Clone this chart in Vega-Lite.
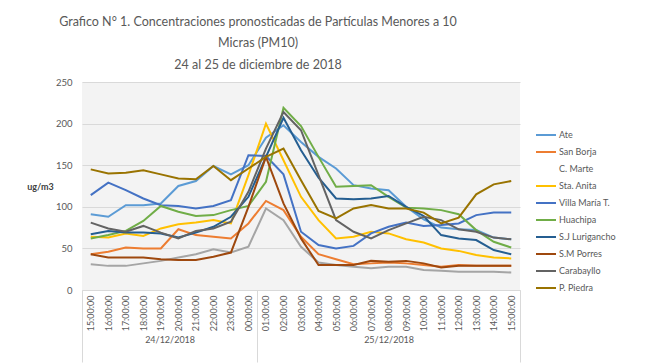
{
  "$schema": "https://vega.github.io/schema/vega-lite/v6.json",
  "width": 438,
  "height": 208,
  "autosize": {"type": "none"},
  "padding": {"left": 82, "top": 82, "right": 125, "bottom": 73},
  "background": "white",
  "config": {"font": "Lato", "view": {"stroke": null, "fill": "#f3f3f3"}},
  "title": {
    "text": ["Grafico N° 1. Concentraciones pronosticadas de Partículas Menores a 10", "Micras (PM10)", "24 al 25 de diciembre de 2018"],
    "font": "Lato", "fontSize": 12.5, "fontWeight": "normal", "color": "#595959",
    "anchor": "middle", "dx": -43, "offset": 6, "lineHeight": 21.5
  },
  "datasets": {
    "sep": [{"p": -0.5}, {"p": 9.5}, {"p": 24.5}],
    "pm": [
      {"t":"24/12/2018 15:00:00","s":"Ate","v":91},{"t":"24/12/2018 16:00:00","s":"Ate","v":88},{"t":"24/12/2018 17:00:00","s":"Ate","v":102},{"t":"24/12/2018 18:00:00","s":"Ate","v":102},{"t":"24/12/2018 19:00:00","s":"Ate","v":104},{"t":"24/12/2018 20:00:00","s":"Ate","v":125},{"t":"24/12/2018 21:00:00","s":"Ate","v":131},{"t":"24/12/2018 22:00:00","s":"Ate","v":149},{"t":"24/12/2018 23:00:00","s":"Ate","v":139},{"t":"24/12/2018 00:00:00","s":"Ate","v":150},{"t":"25/12/2018 01:00:00","s":"Ate","v":183},{"t":"25/12/2018 02:00:00","s":"Ate","v":198},{"t":"25/12/2018 03:00:00","s":"Ate","v":178},{"t":"25/12/2018 04:00:00","s":"Ate","v":160},{"t":"25/12/2018 05:00:00","s":"Ate","v":146},{"t":"25/12/2018 06:00:00","s":"Ate","v":126},{"t":"25/12/2018 07:00:00","s":"Ate","v":122},{"t":"25/12/2018 08:00:00","s":"Ate","v":120},{"t":"25/12/2018 09:00:00","s":"Ate","v":100},{"t":"25/12/2018 10:00:00","s":"Ate","v":85},{"t":"25/12/2018 11:00:00","s":"Ate","v":75},{"t":"25/12/2018 12:00:00","s":"Ate","v":73},{"t":"25/12/2018 13:00:00","s":"Ate","v":72},{"t":"25/12/2018 14:00:00","s":"Ate","v":63},{"t":"25/12/2018 15:00:00","s":"Ate","v":61},
      {"t":"24/12/2018 15:00:00","s":"San Borja","v":43},{"t":"24/12/2018 16:00:00","s":"San Borja","v":46},{"t":"24/12/2018 17:00:00","s":"San Borja","v":51},{"t":"24/12/2018 18:00:00","s":"San Borja","v":50},{"t":"24/12/2018 19:00:00","s":"San Borja","v":50},{"t":"24/12/2018 20:00:00","s":"San Borja","v":73},{"t":"24/12/2018 21:00:00","s":"San Borja","v":66},{"t":"24/12/2018 22:00:00","s":"San Borja","v":64},{"t":"24/12/2018 23:00:00","s":"San Borja","v":62},{"t":"24/12/2018 00:00:00","s":"San Borja","v":80},{"t":"25/12/2018 01:00:00","s":"San Borja","v":107},{"t":"25/12/2018 02:00:00","s":"San Borja","v":96},{"t":"25/12/2018 03:00:00","s":"San Borja","v":64},{"t":"25/12/2018 04:00:00","s":"San Borja","v":43},{"t":"25/12/2018 05:00:00","s":"San Borja","v":37},{"t":"25/12/2018 06:00:00","s":"San Borja","v":31},{"t":"25/12/2018 07:00:00","s":"San Borja","v":32},{"t":"25/12/2018 08:00:00","s":"San Borja","v":33},{"t":"25/12/2018 09:00:00","s":"San Borja","v":32},{"t":"25/12/2018 10:00:00","s":"San Borja","v":30},{"t":"25/12/2018 11:00:00","s":"San Borja","v":28},{"t":"25/12/2018 12:00:00","s":"San Borja","v":30},{"t":"25/12/2018 13:00:00","s":"San Borja","v":29},{"t":"25/12/2018 14:00:00","s":"San Borja","v":29},{"t":"25/12/2018 15:00:00","s":"San Borja","v":29},
      {"t":"24/12/2018 15:00:00","s":"C. Marte","v":31},{"t":"24/12/2018 16:00:00","s":"C. Marte","v":29},{"t":"24/12/2018 17:00:00","s":"C. Marte","v":29},{"t":"24/12/2018 18:00:00","s":"C. Marte","v":32},{"t":"24/12/2018 19:00:00","s":"C. Marte","v":35},{"t":"24/12/2018 20:00:00","s":"C. Marte","v":39},{"t":"24/12/2018 21:00:00","s":"C. Marte","v":43},{"t":"24/12/2018 22:00:00","s":"C. Marte","v":49},{"t":"24/12/2018 23:00:00","s":"C. Marte","v":45},{"t":"24/12/2018 00:00:00","s":"C. Marte","v":52},{"t":"25/12/2018 01:00:00","s":"C. Marte","v":98},{"t":"25/12/2018 02:00:00","s":"C. Marte","v":84},{"t":"25/12/2018 03:00:00","s":"C. Marte","v":52},{"t":"25/12/2018 04:00:00","s":"C. Marte","v":33},{"t":"25/12/2018 05:00:00","s":"C. Marte","v":30},{"t":"25/12/2018 06:00:00","s":"C. Marte","v":28},{"t":"25/12/2018 07:00:00","s":"C. Marte","v":26},{"t":"25/12/2018 08:00:00","s":"C. Marte","v":28},{"t":"25/12/2018 09:00:00","s":"C. Marte","v":28},{"t":"25/12/2018 10:00:00","s":"C. Marte","v":24},{"t":"25/12/2018 11:00:00","s":"C. Marte","v":23},{"t":"25/12/2018 12:00:00","s":"C. Marte","v":22},{"t":"25/12/2018 13:00:00","s":"C. Marte","v":22},{"t":"25/12/2018 14:00:00","s":"C. Marte","v":22},{"t":"25/12/2018 15:00:00","s":"C. Marte","v":21},
      {"t":"24/12/2018 15:00:00","s":"Sta. Anita","v":64},{"t":"24/12/2018 16:00:00","s":"Sta. Anita","v":63},{"t":"24/12/2018 17:00:00","s":"Sta. Anita","v":68},{"t":"24/12/2018 18:00:00","s":"Sta. Anita","v":65},{"t":"24/12/2018 19:00:00","s":"Sta. Anita","v":74},{"t":"24/12/2018 20:00:00","s":"Sta. Anita","v":79},{"t":"24/12/2018 21:00:00","s":"Sta. Anita","v":81},{"t":"24/12/2018 22:00:00","s":"Sta. Anita","v":84},{"t":"24/12/2018 23:00:00","s":"Sta. Anita","v":80},{"t":"24/12/2018 00:00:00","s":"Sta. Anita","v":138},{"t":"25/12/2018 01:00:00","s":"Sta. Anita","v":200},{"t":"25/12/2018 02:00:00","s":"Sta. Anita","v":156},{"t":"25/12/2018 03:00:00","s":"Sta. Anita","v":112},{"t":"25/12/2018 04:00:00","s":"Sta. Anita","v":84},{"t":"25/12/2018 05:00:00","s":"Sta. Anita","v":62},{"t":"25/12/2018 06:00:00","s":"Sta. Anita","v":64},{"t":"25/12/2018 07:00:00","s":"Sta. Anita","v":70},{"t":"25/12/2018 08:00:00","s":"Sta. Anita","v":68},{"t":"25/12/2018 09:00:00","s":"Sta. Anita","v":61},{"t":"25/12/2018 10:00:00","s":"Sta. Anita","v":57},{"t":"25/12/2018 11:00:00","s":"Sta. Anita","v":50},{"t":"25/12/2018 12:00:00","s":"Sta. Anita","v":47},{"t":"25/12/2018 13:00:00","s":"Sta. Anita","v":42},{"t":"25/12/2018 14:00:00","s":"Sta. Anita","v":39},{"t":"25/12/2018 15:00:00","s":"Sta. Anita","v":38},
      {"t":"24/12/2018 15:00:00","s":"Villa María T.","v":114},{"t":"24/12/2018 16:00:00","s":"Villa María T.","v":129},{"t":"24/12/2018 17:00:00","s":"Villa María T.","v":120},{"t":"24/12/2018 18:00:00","s":"Villa María T.","v":110},{"t":"24/12/2018 19:00:00","s":"Villa María T.","v":102},{"t":"24/12/2018 20:00:00","s":"Villa María T.","v":101},{"t":"24/12/2018 21:00:00","s":"Villa María T.","v":98},{"t":"24/12/2018 22:00:00","s":"Villa María T.","v":101},{"t":"24/12/2018 23:00:00","s":"Villa María T.","v":108},{"t":"24/12/2018 00:00:00","s":"Villa María T.","v":162},{"t":"25/12/2018 01:00:00","s":"Villa María T.","v":161},{"t":"25/12/2018 02:00:00","s":"Villa María T.","v":139},{"t":"25/12/2018 03:00:00","s":"Villa María T.","v":70},{"t":"25/12/2018 04:00:00","s":"Villa María T.","v":54},{"t":"25/12/2018 05:00:00","s":"Villa María T.","v":50},{"t":"25/12/2018 06:00:00","s":"Villa María T.","v":53},{"t":"25/12/2018 07:00:00","s":"Villa María T.","v":68},{"t":"25/12/2018 08:00:00","s":"Villa María T.","v":76},{"t":"25/12/2018 09:00:00","s":"Villa María T.","v":81},{"t":"25/12/2018 10:00:00","s":"Villa María T.","v":77},{"t":"25/12/2018 11:00:00","s":"Villa María T.","v":78},{"t":"25/12/2018 12:00:00","s":"Villa María T.","v":80},{"t":"25/12/2018 13:00:00","s":"Villa María T.","v":90},{"t":"25/12/2018 14:00:00","s":"Villa María T.","v":93},{"t":"25/12/2018 15:00:00","s":"Villa María T.","v":93},
      {"t":"24/12/2018 15:00:00","s":"Huachipa","v":62},{"t":"24/12/2018 16:00:00","s":"Huachipa","v":66},{"t":"24/12/2018 17:00:00","s":"Huachipa","v":71},{"t":"24/12/2018 18:00:00","s":"Huachipa","v":83},{"t":"24/12/2018 19:00:00","s":"Huachipa","v":101},{"t":"24/12/2018 20:00:00","s":"Huachipa","v":94},{"t":"24/12/2018 21:00:00","s":"Huachipa","v":89},{"t":"24/12/2018 22:00:00","s":"Huachipa","v":90},{"t":"24/12/2018 23:00:00","s":"Huachipa","v":96},{"t":"24/12/2018 00:00:00","s":"Huachipa","v":101},{"t":"25/12/2018 01:00:00","s":"Huachipa","v":130},{"t":"25/12/2018 02:00:00","s":"Huachipa","v":219},{"t":"25/12/2018 03:00:00","s":"Huachipa","v":197},{"t":"25/12/2018 04:00:00","s":"Huachipa","v":160},{"t":"25/12/2018 05:00:00","s":"Huachipa","v":124},{"t":"25/12/2018 06:00:00","s":"Huachipa","v":125},{"t":"25/12/2018 07:00:00","s":"Huachipa","v":126},{"t":"25/12/2018 08:00:00","s":"Huachipa","v":112},{"t":"25/12/2018 09:00:00","s":"Huachipa","v":99},{"t":"25/12/2018 10:00:00","s":"Huachipa","v":98},{"t":"25/12/2018 11:00:00","s":"Huachipa","v":96},{"t":"25/12/2018 12:00:00","s":"Huachipa","v":91},{"t":"25/12/2018 13:00:00","s":"Huachipa","v":72},{"t":"25/12/2018 14:00:00","s":"Huachipa","v":58},{"t":"25/12/2018 15:00:00","s":"Huachipa","v":51},
      {"t":"24/12/2018 15:00:00","s":"S.J Lurigancho","v":67},{"t":"24/12/2018 16:00:00","s":"S.J Lurigancho","v":71},{"t":"24/12/2018 17:00:00","s":"S.J Lurigancho","v":69},{"t":"24/12/2018 18:00:00","s":"S.J Lurigancho","v":69},{"t":"24/12/2018 19:00:00","s":"S.J Lurigancho","v":68},{"t":"24/12/2018 20:00:00","s":"S.J Lurigancho","v":63},{"t":"24/12/2018 21:00:00","s":"S.J Lurigancho","v":69},{"t":"24/12/2018 22:00:00","s":"S.J Lurigancho","v":76},{"t":"24/12/2018 23:00:00","s":"S.J Lurigancho","v":88},{"t":"24/12/2018 00:00:00","s":"S.J Lurigancho","v":112},{"t":"25/12/2018 01:00:00","s":"S.J Lurigancho","v":160},{"t":"25/12/2018 02:00:00","s":"S.J Lurigancho","v":207},{"t":"25/12/2018 03:00:00","s":"S.J Lurigancho","v":168},{"t":"25/12/2018 04:00:00","s":"S.J Lurigancho","v":135},{"t":"25/12/2018 05:00:00","s":"S.J Lurigancho","v":110},{"t":"25/12/2018 06:00:00","s":"S.J Lurigancho","v":109},{"t":"25/12/2018 07:00:00","s":"S.J Lurigancho","v":110},{"t":"25/12/2018 08:00:00","s":"S.J Lurigancho","v":113},{"t":"25/12/2018 09:00:00","s":"S.J Lurigancho","v":100},{"t":"25/12/2018 10:00:00","s":"S.J Lurigancho","v":89},{"t":"25/12/2018 11:00:00","s":"S.J Lurigancho","v":66},{"t":"25/12/2018 12:00:00","s":"S.J Lurigancho","v":62},{"t":"25/12/2018 13:00:00","s":"S.J Lurigancho","v":60},{"t":"25/12/2018 14:00:00","s":"S.J Lurigancho","v":48},{"t":"25/12/2018 15:00:00","s":"S.J Lurigancho","v":43},
      {"t":"24/12/2018 15:00:00","s":"S.M Porres","v":43},{"t":"24/12/2018 16:00:00","s":"S.M Porres","v":39},{"t":"24/12/2018 17:00:00","s":"S.M Porres","v":39},{"t":"24/12/2018 18:00:00","s":"S.M Porres","v":39},{"t":"24/12/2018 19:00:00","s":"S.M Porres","v":37},{"t":"24/12/2018 20:00:00","s":"S.M Porres","v":36},{"t":"24/12/2018 21:00:00","s":"S.M Porres","v":36},{"t":"24/12/2018 22:00:00","s":"S.M Porres","v":40},{"t":"24/12/2018 23:00:00","s":"S.M Porres","v":45},{"t":"24/12/2018 00:00:00","s":"S.M Porres","v":100},{"t":"25/12/2018 01:00:00","s":"S.M Porres","v":160},{"t":"25/12/2018 02:00:00","s":"S.M Porres","v":104},{"t":"25/12/2018 03:00:00","s":"S.M Porres","v":62},{"t":"25/12/2018 04:00:00","s":"S.M Porres","v":30},{"t":"25/12/2018 05:00:00","s":"S.M Porres","v":30},{"t":"25/12/2018 06:00:00","s":"S.M Porres","v":30},{"t":"25/12/2018 07:00:00","s":"S.M Porres","v":35},{"t":"25/12/2018 08:00:00","s":"S.M Porres","v":34},{"t":"25/12/2018 09:00:00","s":"S.M Porres","v":35},{"t":"25/12/2018 10:00:00","s":"S.M Porres","v":32},{"t":"25/12/2018 11:00:00","s":"S.M Porres","v":27},{"t":"25/12/2018 12:00:00","s":"S.M Porres","v":29},{"t":"25/12/2018 13:00:00","s":"S.M Porres","v":29},{"t":"25/12/2018 14:00:00","s":"S.M Porres","v":29},{"t":"25/12/2018 15:00:00","s":"S.M Porres","v":29},
      {"t":"24/12/2018 15:00:00","s":"Carabayllo","v":81},{"t":"24/12/2018 16:00:00","s":"Carabayllo","v":74},{"t":"24/12/2018 17:00:00","s":"Carabayllo","v":70},{"t":"24/12/2018 18:00:00","s":"Carabayllo","v":77},{"t":"24/12/2018 19:00:00","s":"Carabayllo","v":69},{"t":"24/12/2018 20:00:00","s":"Carabayllo","v":62},{"t":"24/12/2018 21:00:00","s":"Carabayllo","v":71},{"t":"24/12/2018 22:00:00","s":"Carabayllo","v":74},{"t":"24/12/2018 23:00:00","s":"Carabayllo","v":82},{"t":"24/12/2018 00:00:00","s":"Carabayllo","v":118},{"t":"25/12/2018 01:00:00","s":"Carabayllo","v":170},{"t":"25/12/2018 02:00:00","s":"Carabayllo","v":214},{"t":"25/12/2018 03:00:00","s":"Carabayllo","v":192},{"t":"25/12/2018 04:00:00","s":"Carabayllo","v":138},{"t":"25/12/2018 05:00:00","s":"Carabayllo","v":84},{"t":"25/12/2018 06:00:00","s":"Carabayllo","v":70},{"t":"25/12/2018 07:00:00","s":"Carabayllo","v":62},{"t":"25/12/2018 08:00:00","s":"Carabayllo","v":72},{"t":"25/12/2018 09:00:00","s":"Carabayllo","v":80},{"t":"25/12/2018 10:00:00","s":"Carabayllo","v":88},{"t":"25/12/2018 11:00:00","s":"Carabayllo","v":84},{"t":"25/12/2018 12:00:00","s":"Carabayllo","v":73},{"t":"25/12/2018 13:00:00","s":"Carabayllo","v":70},{"t":"25/12/2018 14:00:00","s":"Carabayllo","v":63},{"t":"25/12/2018 15:00:00","s":"Carabayllo","v":61},
      {"t":"24/12/2018 15:00:00","s":"P. Piedra","v":145},{"t":"24/12/2018 16:00:00","s":"P. Piedra","v":140},{"t":"24/12/2018 17:00:00","s":"P. Piedra","v":141},{"t":"24/12/2018 18:00:00","s":"P. Piedra","v":144},{"t":"24/12/2018 19:00:00","s":"P. Piedra","v":139},{"t":"24/12/2018 20:00:00","s":"P. Piedra","v":134},{"t":"24/12/2018 21:00:00","s":"P. Piedra","v":133},{"t":"24/12/2018 22:00:00","s":"P. Piedra","v":149},{"t":"24/12/2018 23:00:00","s":"P. Piedra","v":132},{"t":"24/12/2018 00:00:00","s":"P. Piedra","v":146},{"t":"25/12/2018 01:00:00","s":"P. Piedra","v":160},{"t":"25/12/2018 02:00:00","s":"P. Piedra","v":170},{"t":"25/12/2018 03:00:00","s":"P. Piedra","v":132},{"t":"25/12/2018 04:00:00","s":"P. Piedra","v":95},{"t":"25/12/2018 05:00:00","s":"P. Piedra","v":86},{"t":"25/12/2018 06:00:00","s":"P. Piedra","v":98},{"t":"25/12/2018 07:00:00","s":"P. Piedra","v":102},{"t":"25/12/2018 08:00:00","s":"P. Piedra","v":98},{"t":"25/12/2018 09:00:00","s":"P. Piedra","v":98},{"t":"25/12/2018 10:00:00","s":"P. Piedra","v":93},{"t":"25/12/2018 11:00:00","s":"P. Piedra","v":80},{"t":"25/12/2018 12:00:00","s":"P. Piedra","v":87},{"t":"25/12/2018 13:00:00","s":"P. Piedra","v":115},{"t":"25/12/2018 14:00:00","s":"P. Piedra","v":127},{"t":"25/12/2018 15:00:00","s":"P. Piedra","v":131}
    ]
  },
  "layer": [
    {
      "data": {"name": "pm"},
      "mark": {"type": "line", "strokeWidth": 2},
      "encoding": {
        "x": {
          "field": "t", "type": "ordinal", "sort": null,
          "scale": {"type": "point", "padding": 0.5},
          "axis": {
            "orient": "bottom",
            "title": null, "labelExpr": "split(datum.label, ' ')[1]",
            "labelAngle": 270, "labelFontSize": 9, "labelColor": "#595959", "labelFont": "Lato",
            "labelPadding": 5, "ticks": false, "grid": false,
            "domainColor": "#d9d9d9", "domainWidth": 1
          }
        },
        "y": {
          "field": "v", "type": "quantitative",
          "scale": {"domain": [0, 250], "nice": false},
          "axis": {
            "values": [0, 50, 100, 150, 200, 250], "ticks": false, "domain": false,
            "gridColor": "#d9d9d9", "gridWidth": 1,
            "labelFontSize": 9.5, "labelColor": "#595959", "labelFont": "Lato", "labelPadding": 10,
            "title": "ug/m3", "titleAngle": 0, "titleX": -42, "titleY": 104,
            "titleAlign": "center", "titleBaseline": "middle",
            "titleFontSize": 9, "titleFontWeight": "bold", "titleColor": "#404040", "titleFont": "Lato"
          }
        },
        "color": {
          "field": "s", "type": "nominal",
          "scale": {
            "domain": ["Ate", "San Borja", "C. Marte", "Sta. Anita", "Villa María T.", "Huachipa", "S.J Lurigancho", "S.M Porres", "Carabayllo", "P. Piedra"],
            "range": ["#5B9BD5", "#ED7D31", "#A5A5A5", "#FFC000", "#4472C4", "#70AD47", "#255E91", "#9E480E", "#636363", "#997300"]
          },
          "legend": {
            "title": null, "orient": "none", "legendX": 453, "legendY": 42,
            "symbolType": "stroke", "symbolSize": 400, "symbolStrokeWidth": 2,
            "labelFontSize": 9, "labelColor": "#595959", "labelFont": "Lato", "labelOffset": 2,
            "rowPadding": 1,
            "encode": {"symbols": {"update": {"opacity": {"signal": "datum.value === 'C. Marte' ? 0 : 1"}}}}
          }
        }
      }
    },
    {
      "data": {"name": "sep"},
      "mark": {"type": "rule", "opacity": 0},
      "encoding": {
        "x": {
          "field": "p", "type": "quantitative",
          "scale": {"domain": [-0.5, 24.5], "nice": false, "zero": false},
          "axis": {
            "orient": "bottom",
            "title": null, "domain": false, "grid": false,
            "values": [-0.5, 4.5, 9.5, 17, 24.5],
            "tickSize": 72, "tickWidth": 1,
            "tickColor": {"condition": {"test": "datum.value === 4.5 || datum.value === 17", "value": "transparent"}, "value": "#d9d9d9"},
            "labelExpr": "datum.value === 4.5 ? '24/12/2018' : (datum.value === 17 ? '25/12/2018' : '')",
            "labelPadding": -27, "labelFontSize": 9, "labelColor": "#595959", "labelFont": "Lato",
            "labelOverlap": false, "labelFlush": false, "labelBound": false
          }
        }
      }
    }
  ],
  "resolve": {"scale": {"x": "independent"}, "axis": {"x": "independent"}}
}
